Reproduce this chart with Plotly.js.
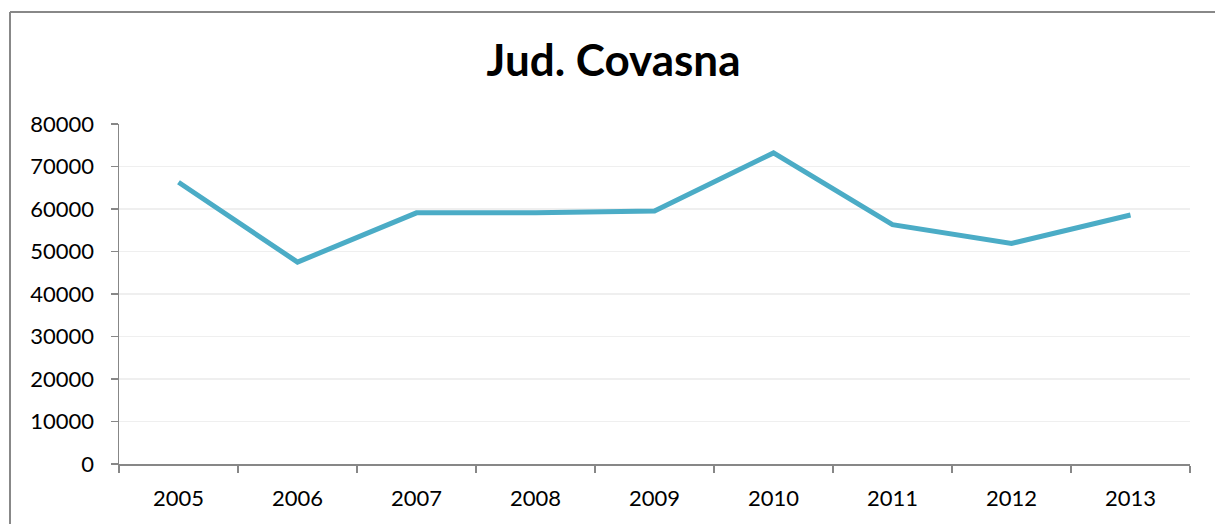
<!DOCTYPE html>
<html>
<head>
<meta charset="utf-8">
<script src="https://cdn.plot.ly/plotly-3.0.1.min.js"></script>
<style>
  html, body { margin: 0; padding: 0; background: #fff; overflow: hidden; }
  #chart { width: 1215px; height: 524px; }
</style>
</head>
<body>
<div id="chart"></div>
<script>
// Jud. Covasna, 2005-2013
const years = ['2005', '2006', '2007', '2008', '2009', '2010', '2011', '2012', '2013'];
const values = [66300, 47500, 59100, 59100, 59500, 73200, 56300, 51900, 58600];
const yTicks = [0, 10000, 20000, 30000, 40000, 50000, 60000, 70000, 80000];

const axisGray = '#878787';
const W = 1215, H = 524;

const trace = {
    x: years,
    y: values,
    type: 'scatter',
    mode: 'lines',
    line: { color: '#4BACC6', width: 5 },
    hoverinfo: 'x+y'
};

// outer chart frame (top and left edges only are inside the picture)
const frameLine = { color: '#888', width: 2 };

const layout = {
    width: W,
    height: H,
    paper_bgcolor: '#fff',
    plot_bgcolor: '#fff',
    font: { family: 'Lato, "Open Sans", sans-serif', size: 22, color: '#000' },
    margin: { l: 119, r: 25, t: 124, b: 60 },
    showlegend: false,
    title: {
        text: '<b>Jud. Covasna</b>',
        font: { family: 'Lato, "Open Sans", sans-serif', size: 44, color: '#000' },
        x: 0.505, xanchor: 'center',
        y: 0.885, yanchor: 'middle'
    },
    xaxis: {
        type: 'category',
        range: [-0.5, years.length - 0.5],
        tickson: 'boundaries',
        showline: true, linecolor: axisGray, linewidth: 1.5,
        ticks: 'outside', ticklen: 7, tickcolor: axisGray, tickwidth: 1.5,
        showgrid: false, zeroline: false,
        ticklabelstandoff: 14
    },
    yaxis: {
        range: [0, 80000],
        tickvals: yTicks,
        ticktext: yTicks.map(String),
        showline: true, linecolor: axisGray, linewidth: 1.5,
        ticks: 'outside', ticklen: 7, tickcolor: axisGray, tickwidth: 1.5,
        showgrid: true, gridcolor: '#EFEFEF', gridwidth: 1.5,
        zeroline: false,
        ticklabelstandoff: 12
    },
    shapes: [
        { type: 'line', xref: 'paper', yref: 'paper',
          x0: (10 - 119) / (W - 144), x1: (W + 5 - 119) / (W - 144),
          y0: (H - 60 - 12) / (H - 184), y1: (H - 60 - 12) / (H - 184),
          line: frameLine, layer: 'above' },
        { type: 'line', xref: 'paper', yref: 'paper',
          x0: (10 - 119) / (W - 144), x1: (10 - 119) / (W - 144),
          y0: (H - 60 - 12) / (H - 184), y1: -80 / (H - 184),
          line: frameLine, layer: 'above' }
    ]
};

Plotly.newPlot('chart', [trace], layout, { displayModeBar: false, staticPlot: true });
</script>
</body>
</html>
